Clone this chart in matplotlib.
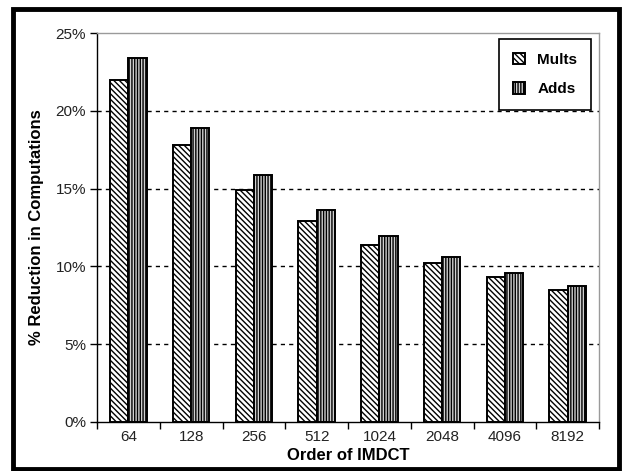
import numpy as np
import matplotlib
matplotlib.use("Agg")
from matplotlib import pyplot as plt
from matplotlib.patches import Rectangle
from matplotlib.ticker import FuncFormatter, FixedLocator

plt.rcParams["font.family"] = ["Liberation Sans", "DejaVu Sans"]
plt.rcParams["hatch.linewidth"] = 1.0

orders = ["64", "128", "256", "512", "1024", "2048", "4096", "8192"]
mults = [22.0, 17.8, 14.9, 12.9, 11.35, 10.2, 9.3, 8.45]
adds = [23.4, 18.9, 15.85, 13.65, 11.95, 10.6, 9.6, 8.75]
y_ticks = [0, 5, 10, 15, 20, 25]

W, H = 624, 471
fig = plt.figure(figsize=(W / 100, H / 100), dpi=100)
ax = fig.add_axes([97 / W, (H - 421.7) / H, (599 - 97) / W, (421.7 - 33.3) / H])

x = np.arange(len(orders))
width = 0.29
ax.bar(x - width / 2, mults, width, facecolor="white", edgecolor="black",
       linewidth=1.4, hatch="\\" * 6, label="Mults", zorder=3)
ax.bar(x + width / 2, adds, width, facecolor="#d0d0d0", edgecolor="black",
       linewidth=1.4, hatch="|" * 6, label="Adds", zorder=3)

ax.set_xlim(-0.5, len(orders) - 0.5)
ax.set_ylim(0, 25)
ax.set_yticks(y_ticks)
ax.yaxis.set_major_formatter(FuncFormatter(lambda v, p: f"{v:.0f}%"))
ax.set_xticks(x)
ax.set_xticklabels(orders)
ax.xaxis.set_minor_locator(FixedLocator(np.arange(-0.5, len(orders), 1.0)))
ax.tick_params(axis="x", which="major", length=0, pad=6, labelsize=11, colors="#222222")
ax.tick_params(axis="x", which="minor", length=5, width=1, direction="out", color="black")
ax.tick_params(axis="y", length=5, width=1, direction="out", pad=3, labelsize=11, labelcolor="#222222")

# Dashed gridlines (not at the top).
for v in y_ticks[1:-1]:
    ax.axhline(v, color="black", linestyle=(0, (3, 3)), linewidth=1.0, zorder=1)

for side in ["top", "right"]:
    ax.spines[side].set_color("#9a9a9a")
    ax.spines[side].set_linewidth(1.0)
for side in ["left", "bottom"]:
    ax.spines[side].set_color("black")
    ax.spines[side].set_linewidth(1.0)

ax.set_xlabel("Order of IMDCT", fontweight="bold", fontsize=12, labelpad=3)
ax.set_ylabel("% Reduction in Computations", fontweight="bold", fontsize=12, labelpad=8)

leg = ax.legend(loc="upper right", bbox_to_anchor=(591 / W, (H - 39) / H),
                bbox_transform=fig.transFigure, fancybox=False, framealpha=1,
                edgecolor="black", handlelength=0.8, handleheight=0.8,
                handletextpad=0.8, labelspacing=1.0, borderpad=0.9,
                borderaxespad=0, prop={"weight": "bold", "size": 11})
leg.get_frame().set_linewidth(1.2)

# Black frame round the whole chart.
fig.patches.append(Rectangle((12.5 / W, 2 / H), (619 - 12.5) / W, (H - 8.5 - 2) / H,
                             transform=fig.transFigure, fill=False,
                             edgecolor="black", linewidth=3.5))

fig.savefig("out.png", dpi=100)
